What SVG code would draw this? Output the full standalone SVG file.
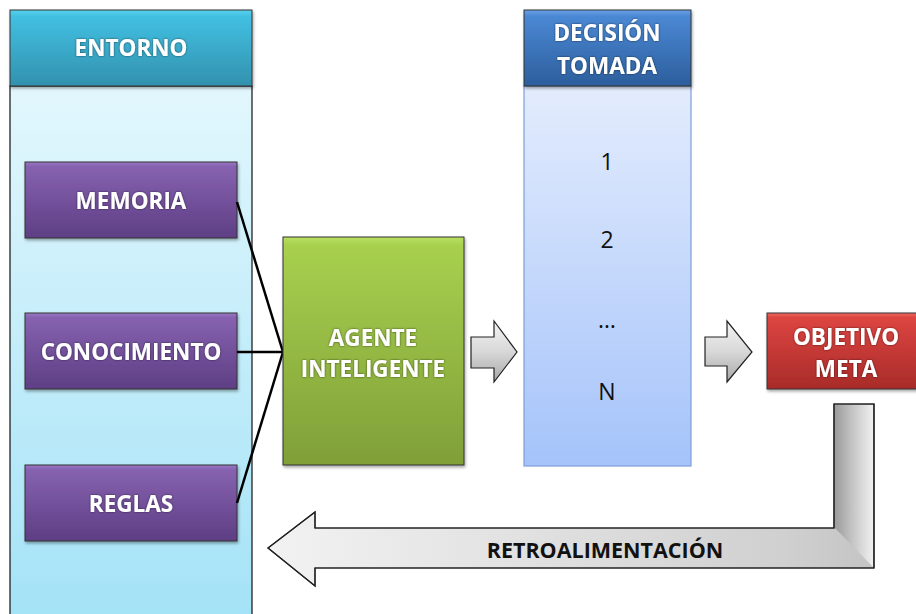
<svg xmlns="http://www.w3.org/2000/svg" width="916" height="614" viewBox="0 0 916 614">
<defs>
<linearGradient id="gEnvBody" x1="0" y1="0" x2="0" y2="1"><stop offset="0" stop-color="#e2f7fd"/><stop offset="1" stop-color="#a3e2f7"/></linearGradient>
<linearGradient id="gEnvHead" x1="0" y1="0" x2="0" y2="1"><stop offset="0" stop-color="#5ad2ee"/><stop offset="0.08" stop-color="#42c0e2"/><stop offset="1" stop-color="#3291ae"/></linearGradient>
<linearGradient id="gDecBody" x1="0" y1="0" x2="0" y2="1"><stop offset="0" stop-color="#e3ecfd"/><stop offset="1" stop-color="#a5c3fa"/></linearGradient>
<linearGradient id="gDecHead" x1="0" y1="0" x2="0" y2="1"><stop offset="0" stop-color="#6aa2e6"/><stop offset="0.08" stop-color="#4b88d4"/><stop offset="1" stop-color="#2c5e9c"/></linearGradient>
<linearGradient id="gPurple" x1="0" y1="0" x2="0" y2="1"><stop offset="0" stop-color="#9a78c4"/><stop offset="0.06" stop-color="#8662b0"/><stop offset="1" stop-color="#5e3e84"/></linearGradient>
<linearGradient id="gGreen" x1="0" y1="0" x2="0" y2="1"><stop offset="0" stop-color="#b8df62"/><stop offset="0.04" stop-color="#a8d04e"/><stop offset="1" stop-color="#7f9f38"/></linearGradient>
<linearGradient id="gRed" x1="0" y1="0" x2="0" y2="1"><stop offset="0" stop-color="#ee6a64"/><stop offset="0.06" stop-color="#dd4541"/><stop offset="1" stop-color="#a82b29"/></linearGradient>
<linearGradient id="gArrow" x1="0" y1="0" x2="0" y2="1"><stop offset="0" stop-color="#f4f4f4"/><stop offset="0.5" stop-color="#d8d8d8"/><stop offset="1" stop-color="#a8a8a8"/></linearGradient>
<linearGradient id="gFeedH" x1="0" y1="0" x2="1" y2="0"><stop offset="0" stop-color="#f2f2f2"/><stop offset="0.85" stop-color="#d0d0d0"/><stop offset="1" stop-color="#c4c4c4"/></linearGradient>
<linearGradient id="gFeedV" x1="0" y1="0" x2="1" y2="0"><stop offset="0" stop-color="#9c9c9c"/><stop offset="0.5" stop-color="#c8c8c8"/><stop offset="1" stop-color="#f0f0f0"/></linearGradient>
<filter id="shadow" x="-10%" y="-10%" width="125%" height="130%"><feDropShadow dx="1" dy="2" stdDeviation="1.5" flood-color="#000" flood-opacity="0.35"/></filter>
<filter id="tshadow" x="-10%" y="-30%" width="120%" height="160%"><feDropShadow dx="0" dy="0" stdDeviation="1" flood-color="#000" flood-opacity="0.6"/></filter>
</defs>
<style>
.lbl{font-family:"Open Sans","Liberation Sans",sans-serif;font-weight:bold;font-size:22.5px;fill:#fff;text-anchor:middle;filter:url(#tshadow)}
.num{font-family:"Open Sans","Liberation Sans",sans-serif;font-size:23px;fill:#111;text-anchor:middle}
.edge{stroke:#000;stroke-width:2.5;fill:none}
.box{stroke:#333;stroke-width:1;filter:url(#shadow)}
.blk{stroke:#222;stroke-width:1.2}
</style>

<g id="entorno">
<rect x="10" y="86" width="242" height="540" fill="url(#gEnvBody)" stroke="#111" stroke-width="1.2"/>
<rect class="box" x="10" y="10" width="242" height="76" fill="url(#gEnvHead)"/>
<text class="lbl" x="131" y="56">ENTORNO</text>
</g>

<g id="memoria">
<rect class="box" x="25" y="162" width="212" height="76" fill="url(#gPurple)" stroke="#5a3f80"/>
<text class="lbl" x="131" y="209">MEMORIA</text>
</g>
<g id="conocimiento">
<rect class="box" x="25" y="313" width="212" height="76" fill="url(#gPurple)" stroke="#5a3f80"/>
<text class="lbl" x="131" y="360">CONOCIMIENTO</text>
</g>
<g id="reglas">
<rect class="box" x="25" y="465" width="212" height="76" fill="url(#gPurple)" stroke="#5a3f80"/>
<text class="lbl" x="131" y="512">REGLAS</text>
</g>

<g id="connectors">
<line class="edge" x1="237" y1="202" x2="283" y2="352"/>
<line class="edge" x1="237" y1="352" x2="283" y2="352"/>
<line class="edge" x1="237" y1="503" x2="283" y2="352"/>
<path class="blk" d="M471,337 H494 V321 L517,352 L494,382 V368 H471 Z" fill="url(#gArrow)"/>
<path class="blk" d="M705,337 H727 V321 L752,352 L727,382 V366 H705 Z" fill="url(#gArrow)"/>
</g>

<g id="agente">
<rect class="box" x="283" y="237" width="181" height="228" fill="url(#gGreen)"/>
<text class="lbl" x="373" y="346">AGENTE</text>
<text class="lbl" x="373" y="377">INTELIGENTE</text>
</g>

<g id="decision">
<rect x="524" y="86" width="167" height="380" fill="url(#gDecBody)" stroke="#7d9fd6" stroke-width="1.2"/>
<rect class="box" x="524" y="10" width="167" height="76" fill="url(#gDecHead)"/>
<text class="lbl" x="607" y="41">DECISIÓN</text>
<text class="lbl" x="607" y="74">TOMADA</text>
<text class="num" x="607" y="170">1</text>
<text class="num" x="607" y="248">2</text>
<text class="num" x="607" y="328">…</text>
<text class="num" x="607" y="400">N</text>
</g>

<g id="objetivo">
<rect class="box" x="767" y="313" width="160" height="76" fill="url(#gRed)"/>
<text class="lbl" x="846" y="345">OBJETIVO</text>
<text class="lbl" x="846" y="377">META</text>
</g>

<g id="retroalimentacion">
<path class="blk" d="M834,404 H874 V568 H315 V586 L268,548 L315,512 V528 H834 Z" fill="url(#gFeedH)"/>
<path d="M835,405 H873 V567 L835,528 Z" fill="url(#gFeedV)"/>
<path class="blk" d="M834,404 H874 V568 H315 V586 L268,548 L315,512 V528 H834 Z" fill="none"/>
<text x="605" y="558" font-family="'Open Sans','Liberation Sans',sans-serif" font-weight="bold" font-size="21.5" fill="#111" text-anchor="middle">RETROALIMENTACIÓN</text>
</g>
</svg>
